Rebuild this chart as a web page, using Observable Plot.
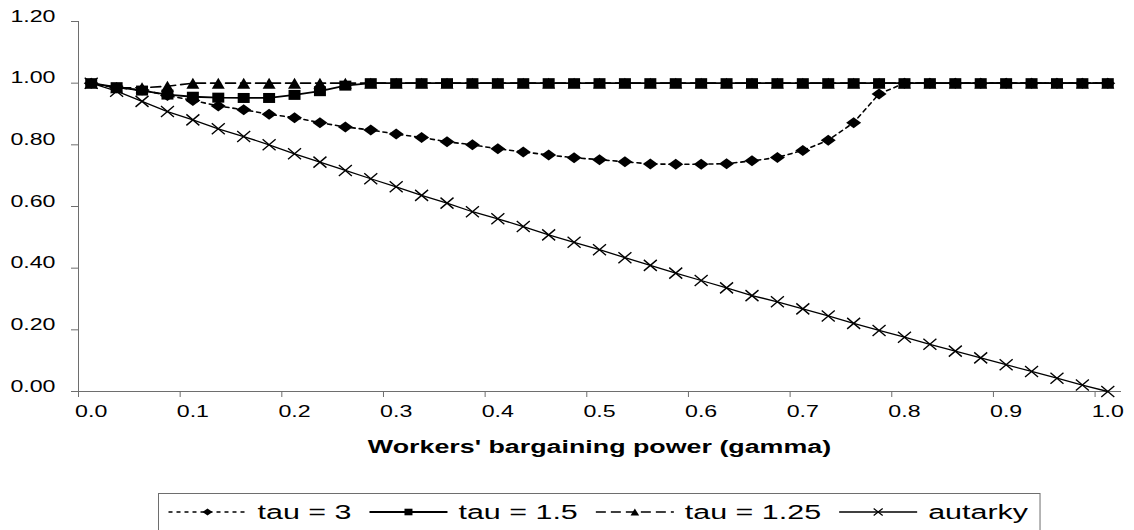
<!DOCTYPE html>
<html>
<head>
<meta charset="utf-8">
<script src="https://cdn.jsdelivr.net/npm/d3@7"></script>
<script src="https://cdn.jsdelivr.net/npm/@observablehq/plot@0.6"></script>
<style>
  html, body { margin: 0; padding: 0; background: #fff; overflow: hidden; }
  #chart { width: 1134px; height: 530px; overflow: hidden; font-family: "Liberation Sans", Arial, sans-serif; }
  #chart svg { display: block; }
  #chart text { fill: #000; }
</style>
</head>
<body>
<div id="chart"></div>
<script>
// ---------- data ----------
const gamma = [0,0.025,0.05,0.075,0.1,0.125,0.15,0.175,0.2,0.225,0.25,0.275,0.3,0.325,0.35,0.375,0.4,0.425,0.45,0.475,0.5,0.525,0.55,0.575,0.6,0.625,0.65,0.675,0.7,0.725,0.75,0.775,0.8,0.825,0.85,0.875,0.9,0.925,0.95,0.975,1];

const tau3 = [1.0,0.985,0.978,0.960,0.944,0.926,0.914,0.899,0.888,0.872,0.858,0.848,0.835,0.824,0.810,0.800,0.787,0.777,0.767,0.758,0.752,0.745,0.738,0.737,0.737,0.739,0.748,0.759,0.782,0.815,0.872,0.965,1,1,1,1,1,1,1,1,1];

const tau15 = [1.0,0.987,0.976,0.963,0.956,0.953,0.952,0.952,0.962,0.974,0.992,1,1,1,1,1,1,1,1,1,1,1,1,1,1,1,1,1,1,1,1,1,1,1,1,1,1,1,1,1,1];

const tau125 = [1.0,0.985,0.985,0.99,1,1,1,1,1,1,1,1,1,1,1,1,1,1,1,1,1,1,1,1,1,1,1,1,1,1,1,1,1,1,1,1,1,1,1,1,1];

const autarky = [1.0,0.974,0.941,0.908,0.881,0.852,0.827,0.800,0.771,0.744,0.717,0.690,0.664,0.636,0.611,0.583,0.560,0.535,0.508,0.484,0.460,0.434,0.409,0.384,0.360,0.336,0.311,0.291,0.268,0.245,0.221,0.198,0.176,0.153,0.131,0.109,0.087,0.065,0.043,0.021,0.0];

const seriesNames = ["tau = 3", "tau = 1.5", "tau = 1.25", "autarky"];

const xTickValues = [0,0.1,0.2,0.3,0.4,0.5,0.6,0.7,0.8,0.9,1.0];
const xTickLabels = ["0.0","0.1","0.2","0.3","0.4","0.5","0.6","0.7","0.8","0.9","1.0"];
const yTickValues = [0,0.2,0.4,0.6,0.8,1.0,1.2];
const yTickLabels = ["0.00","0.20","0.40","0.60","0.80","1.00","1.20"];
const xTitle = "Workers' bargaining power (gamma)";

// ---------- helpers ----------
const S = 1.45; // horizontal stretch of the reference's glyphs
const FONT = '"Liberation Sans", Arial, sans-serif';
const half = (gamma[1] - gamma[0]) / 2;
const rows = vals => gamma.map((g, i) => ({g, v: vals[i]}));

const diamondSym = (w, h) => ({draw(c) { c.moveTo(0, -h); c.lineTo(w, 0); c.lineTo(0, h); c.lineTo(-w, 0); c.closePath(); }});
const squareSym  = (w, h) => ({draw(c) { c.moveTo(-w, -h); c.lineTo(w, -h); c.lineTo(w, h); c.lineTo(-w, h); c.closePath(); }});
const triSym     = (w, h) => ({draw(c) { c.moveTo(0, -h); c.lineTo(w, h); c.lineTo(-w, h); c.closePath(); }});
const crossSym   = (w, h) => ({draw(c) { c.moveTo(-w, -h); c.lineTo(w, h); c.moveTo(w, -h); c.lineTo(-w, h); }});

const styles = [
  {name: seriesNames[0], vals: tau3,    dash: "4,4",  width: 1.6, sym: diamondSym(7.5, 5.5), lsym: diamondSym(5, 3.5), fill: "#000", stroke: "none"},
  {name: seriesNames[1], vals: tau15,   dash: null,   width: 1.8, sym: squareSym(6, 5),      lsym: squareSym(4, 3.3),  fill: "#000", stroke: "none"},
  {name: seriesNames[2], vals: tau125,  dash: "10,5", width: 1.6, sym: triSym(6.5, 5.5),     lsym: triSym(4.3, 3.6),   fill: "#000", stroke: "none"},
  {name: seriesNames[3], vals: autarky, dash: null,   width: 1.3, sym: crossSym(6.5, 5.5),   lsym: crossSym(4.5, 3.5), fill: "none", stroke: "#000"}
];

// drawing order (squares on top of triangles)
const order = [2, 0, 1, 3];
const seriesMarks = [];
for (const k of order) {
  const s = styles[k];
  seriesMarks.push(Plot.line(rows(s.vals), {x: "g", y: "v", stroke: "#000", strokeWidth: s.width, strokeDasharray: s.dash || undefined}));
  seriesMarks.push(Plot.dot(rows(s.vals), {x: "g", y: "v", symbol: s.sym, r: 5, fill: s.fill, stroke: s.stroke, strokeWidth: 1.4}));
}

const plot = Plot.plot({
  width: 1134,
  height: 480,
  marginLeft: 78,
  marginRight: 14,
  marginTop: 21,
  marginBottom: 89,
  style: {fontFamily: FONT, fontSize: "16px", color: "#6e6e6e", background: "#fff"},
  x: {
    domain: [gamma[0] - half, gamma[gamma.length - 1] + half],
    ticks: xTickValues.map(v => v - half),
    tickFormat: () => "",
    tickSize: 6,
    line: true,
    label: null
  },
  y: {
    domain: [yTickValues[0], yTickValues[yTickValues.length - 1]],
    ticks: yTickValues,
    tickFormat: (d) => yTickLabels[yTickValues.indexOf(d)] ?? d.toFixed(2),
    tickSize: 7,
    tickPadding: 16,
    line: true,
    label: null
  },
  marks: [
    ...seriesMarks,
    Plot.text(xTickValues, {x: d => d, text: (d, i) => xTickLabels[i], frameAnchor: "bottom", dy: 25, fontSize: 16, fill: "#000"}),
    Plot.text([xTitle], {frameAnchor: "bottom", dy: 61, fontSize: 18.5, fontWeight: "bold", fill: "#000"})
  ]
});

const chart = document.getElementById("chart");
chart.append(plot);

// ---------- legend ----------
const lg = d3.create("svg").attr("width", 1134).attr("height", 50).style("display", "block");
chart.append(lg.node());
const cy = 32;
const lineLen = 78, textGap = 11, itemGap = 18;
const items = lg.append("g");
let cx = 0;
styles.forEach(s => {
  const gi = items.append("g");
  gi.append("line")
    .attr("x1", cx).attr("x2", cx + lineLen).attr("y1", cy).attr("y2", cy)
    .attr("stroke", "#000").attr("stroke-width", s.width)
    .attr("stroke-dasharray", s.dash);
  const p = d3.path(); s.lsym.draw(p);
  gi.append("path").attr("d", p.toString())
    .attr("transform", `translate(${cx + lineLen / 2},${cy})`)
    .attr("fill", s.fill).attr("stroke", s.stroke).attr("stroke-width", 1.2);
  const t = gi.append("text")
    .attr("x", cx + lineLen + textGap).attr("y", cy).attr("dy", "0.35em")
    .attr("font-family", FONT).attr("font-size", 21)
    .text(s.name);
  const w = t.node().getComputedTextLength() * S;
  cx += lineLen + textGap + w + itemGap;
});
const total = cx - itemGap;
const padL = 10, padR = 12;
const boxW = total + padL + padR;
const centerX = 78 + (1134 - 14 - 78) / 2;
const boxX = Math.round(centerX - boxW / 2) + 0.5;
lg.insert("rect", "g")
  .attr("x", boxX).attr("y", 13.5).attr("width", boxW).attr("height", 45)
  .attr("fill", "#fff").attr("stroke", "#6e6e6e").attr("stroke-width", 1);
items.attr("transform", `translate(${boxX + padL},0)`);

// ---------- stretch all text horizontally like the reference ----------
function stretch(root) {
  root.querySelectorAll("text").forEach(el => {
    const x = el.getAttribute("x"), y = el.getAttribute("y");
    let tr = el.getAttribute("transform") || "";
    if (x !== null || y !== null) {
      tr += ` translate(${+x || 0},${+y || 0})`;
      el.removeAttribute("x"); el.removeAttribute("y");
    }
    el.setAttribute("transform", `${tr} scale(${S},1)`.trim());
  });
}
stretch(plot);
stretch(lg.node());
</script>
</body>
</html>
